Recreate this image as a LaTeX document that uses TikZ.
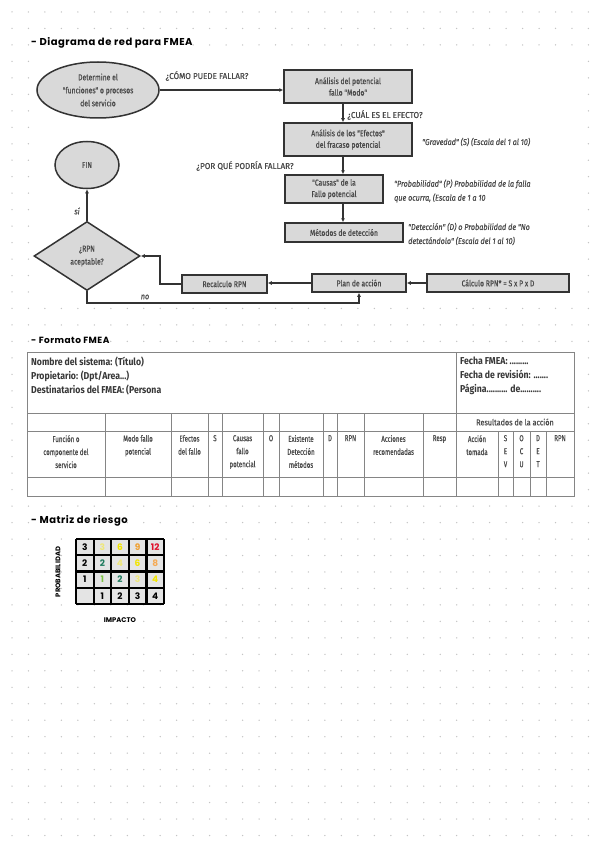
\documentclass[tikz,border=0pt]{standalone}
\usepackage{fontspec}
\setmainfont{Fira Sans}
\newfontfamily\cf[FakeStretch=0.8, FakeBold=0.6]{Fira Sans}
\newfontfamily\cq[FakeStretch=0.95, FakeBold=0.6]{Fira Sans}
\newfontfamily\ci[FakeStretch=0.85, FakeBold=0.5]{Fira Sans}
\newfontfamily\ct[FakeStretch=0.72, FakeBold=0.5]{Fira Sans}
\newfontfamily\ctr[FakeStretch=0.85, FakeBold=0.5]{Fira Sans}
\newfontfamily\cw[FakeStretch=0.87]{Fira Sans}
\newfontfamily\hw[LetterSpace=5]{Poppins}
\newfontfamily\hwn{Poppins}
\usetikzlibrary{shapes.geometric,arrows.meta}
\definecolor{boxfill}{HTML}{D9D9D9}
\definecolor{boxdraw}{HTML}{333333}
\definecolor{txt}{HTML}{4A4A4A}
\definecolor{dotc}{HTML}{C4C4C4}
\definecolor{tline}{HTML}{858585}
\definecolor{cellf}{HTML}{E4E4E4}
\definecolor{pyel}{HTML}{EFE87A}
\definecolor{yel}{HTML}{F2E400}
\definecolor{ora}{HTML}{F0A030}
\definecolor{lora}{HTML}{F5AA55}
\definecolor{red1}{HTML}{E0102A}
\definecolor{teal1}{HTML}{1E7B5E}
\definecolor{lgreen}{HTML}{7CC142}
\tikzset{
  fbox/.style={draw=boxdraw, fill=boxfill, line width=1.5pt, rectangle, inner sep=0pt,
    font=\cf\fontsize{8.5}{11.5}\selectfont, text=txt, align=center},
  arr/.style={draw=boxdraw, line width=1.4pt, -{Latex[length=4pt,width=4pt]}},
  qlab/.style={font=\cq\fontsize{8.5}{11}\selectfont, text=txt, inner sep=0pt},
  ilab/.style={font=\ci\itshape\fontsize{8.5}{14}\selectfont, text=txt, inner sep=0pt, align=left, anchor=west},
  head/.style={font=\hw\bfseries\fontsize{10}{11}\selectfont, text=black, inner sep=0pt, anchor=west},
  thead/.style={font=\ct\fontsize{8.5}{13}\selectfont, text=txt, inner sep=0pt, align=center, anchor=north},
  hinfo/.style={font=\cw\bfseries\fontsize{10}{14}\selectfont, text=black!78, inner sep=0pt, align=left, anchor=north west},
  num/.style={font=\hwn\bfseries\fontsize{9}{10}\selectfont, inner sep=0pt},
  mlab/.style={font=\hwn\bfseries\fontsize{6.8}{8}\selectfont, inner sep=0pt, text=black}
}
\begin{document}
\begin{tikzpicture}[x=1pt,y=-1pt]
\useasboundingbox (0,0) rectangle (599,848);
\fill[white] (0,0) rectangle (599,848);
% dotted paper
\foreach \i in {0,...,35} {
  \foreach \j in {0,...,50} {
    \fill[dotc] ({12+16.47*\i},{12+16.47*\j}) circle (0.75);
  }
}
% white areas
\fill[white] (35,52) rectangle (581,304);

% ---------- headings
\node[head] (h1) at (31,43) {- Diagrama de red para FMEA};
\node[head, font=\hw\bfseries\fontsize{9}{11}\selectfont] (h2) at (31,340) {- Formato FMEA};
\node[head, font=\hw\bfseries\fontsize{10}{11}\selectfont] (h3) at (31,521) {- Matriz de riesgo};

% ---------- flowchart
\node[ellipse, draw=boxdraw, fill=boxfill, line width=1.5pt, minimum width=122, minimum height=56, inner sep=0pt,
  font=\cf\fontsize{8.5}{13}\selectfont, text=txt, align=center] (e1) at (98,90)
  {Determine el\\"funciones" o procesos\\del servicio};
\node[fbox, minimum width=128, minimum height=33] (b1) at (348,86.5) {Análisis del potencial\\fallo "Modo"};
\node[fbox, minimum width=128, minimum height=33] (b2) at (348,139.5) {Análisis de los "Efectos"\\del fracaso potencial};
\node[fbox, minimum width=98, minimum height=28] (b3) at (334,189) {"Causas" de la\\Fallo potencial};
\node[fbox, minimum width=118, minimum height=19] (b4) at (344,232.5) {Métodos de detección};
\node[fbox, minimum width=94, minimum height=18] (b5) at (359,283) {Plan de acción};
\node[fbox, minimum width=142, minimum height=18] (b6) at (498,283) {Cálculo RPN* = S x P x D};
\node[fbox, minimum width=85, minimum height=18] (b7) at (224.5,284) {Recalculo RPN};
\node[ellipse, draw=boxdraw, fill=boxfill, line width=1.5pt, minimum width=64, minimum height=47, inner sep=0pt,
  font=\cf\fontsize{8.5}{11}\selectfont, text=txt] (fin) at (87,165) {FIN};
\node[diamond, draw=boxdraw, fill=boxfill, line width=1.5pt, minimum width=106, minimum height=69, inner sep=0pt,
  font=\cf\fontsize{8.5}{13}\selectfont, text=txt, align=center] (dm) at (87,256) {¿RPN\\aceptable?};

\coordinate (ax) at (343,0);
\coordinate (lx) at (160,0);
\coordinate (nb) at (87,303);

\draw[arr] (e1.east) -- (e1.east -| b1.west);
\draw[arr] (b1.south -| ax) -- (b2.north -| ax);
\draw[arr] (b2.south -| ax) -- (b3.north -| ax);
\draw[arr] (b3.south -| ax) -- (b4.north -| ax);
\draw[arr] (b6.west) -- (b5.east);
\draw[arr] (b5.west) -- (b5.west -| b7.east);
\draw[arr] (b7.west) -- (b7.west -| lx) |- (dm.east);
\draw[arr] (dm.north) -- (fin.south);
\draw[arr] (dm.south) -- (nb) -| (b5.south);

\node[qlab] (q1) at (207,76) {¿CÓMO PUEDE FALLAR?};
\node[qlab] (q2) at (385,115) {¿CUÁL ES EL EFECTO?};
\node[qlab] (q3) at (245,166) {¿POR QUÉ PODRÍA FALLAR?};
\node[qlab, font=\ci\itshape\fontsize{8.5}{11}\selectfont] (si) at (77,211) {sí};
\node[qlab, font=\ci\itshape\fontsize{8.5}{11}\selectfont] (no) at (145,297) {no};

\node[ilab] (g1) at (422,142) {"Gravedad" (S) (Escala del 1 al 10)};
\node[ilab] (g2) at (394,191) {"Probabilidad" (P) Probabilidad de la falla\\que ocurra, (Escala de 1 a 10};
\node[ilab] (g3) at (408,234) {"Detección" (D) o Probabilidad de "No\\detectándolo" (Escala del 1 al 10)};

% ---------- FMEA table
\fill[white] (27,352) rectangle (574,496);
\draw[tline, line width=0.9pt] (27,352) rectangle (574,496);
\draw[tline, line width=0.9pt] (27,413) -- (574,413) (27,431) -- (574,431) (27,477) -- (574,477);
\draw[tline, line width=0.9pt] (456,352) -- (456,496);
\foreach \x in {105,171,208,222,263,279,323,337,364,423} {
  \draw[tline, line width=0.9pt] (\x,413) -- (\x,496);
}
\foreach \x in {498,513,530,546} {
  \draw[tline, line width=0.9pt] (\x,431) -- (\x,496);
}
\node[hinfo] (hl) at (31,357) {Nombre del sistema: (Título)\\Propietario: (Dpt/Area...)\\Destinatarios del FMEA: (Persona};
\node[hinfo] (hr) at (460,357) {Fecha FMEA: .........\\Fecha de revisión: .......\\Página.......... de..........};
\node[thead, anchor=center, font=\ctr\fontsize{8.5}{13}\selectfont] (res) at (515,422) {Resultados de la acción};
\foreach \cx/\t [count=\k] in {66/{Función o\\componente del\\servicio}, 138/{Modo fallo\\potencial},
  189.5/{Efectos\\del fallo}, 215/S, 242.5/{Causas\\fallo\\potencial}, 271/O,
  301/{Existente\\Detección\\métodos}, 330/D, 350.5/RPN, 393.5/{Acciones\\recomendadas},
  439.5/Resp, 477/{Acción\\tomada}, 505.5/{S\\E\\V}, 521.5/{O\\C\\U}, 538/{D\\E\\T}, 560/RPN} {
  \node[thead] (c\k) at (\cx,435) {\t};
}

% ---------- risk matrix
\fill[cellf] (76,539) rectangle (164,604);
\foreach \x in {76,93.6,111.2,128.8,146.4,164} {
  \draw[black, line width=2.2pt] (\x,539) -- (\x,604);
}
\foreach \y in {539,555.25,571.5,587.75,604} {
  \draw[black, line width=2.2pt] (76,\y) -- (164,\y);
}
\foreach \i/\j/\v/\c in {0/0/3/black,1/0/3/pyel,2/0/6/yel,3/0/9/ora,4/0/12/red1,
  0/1/2/black,1/1/2/teal1,2/1/4/pyel,3/1/6/yel,4/1/8/lora,
  0/2/1/black,1/2/1/lgreen,2/2/2/teal1,3/2/3/pyel,4/2/4/yel,
  1/3/1/black,2/3/2/black,3/3/3/black,4/3/4/black} {
  \node[num, text=\c] (m\i\j) at ({84.8+17.6*\i},{547.1+16.25*\j}) {\v};
}
\node[mlab, rotate=90] (prob) at (58,572) {PROBABILIDAD};
\node[mlab] (imp) at (120,620) {IMPACTO};
\end{tikzpicture}
\end{document}
